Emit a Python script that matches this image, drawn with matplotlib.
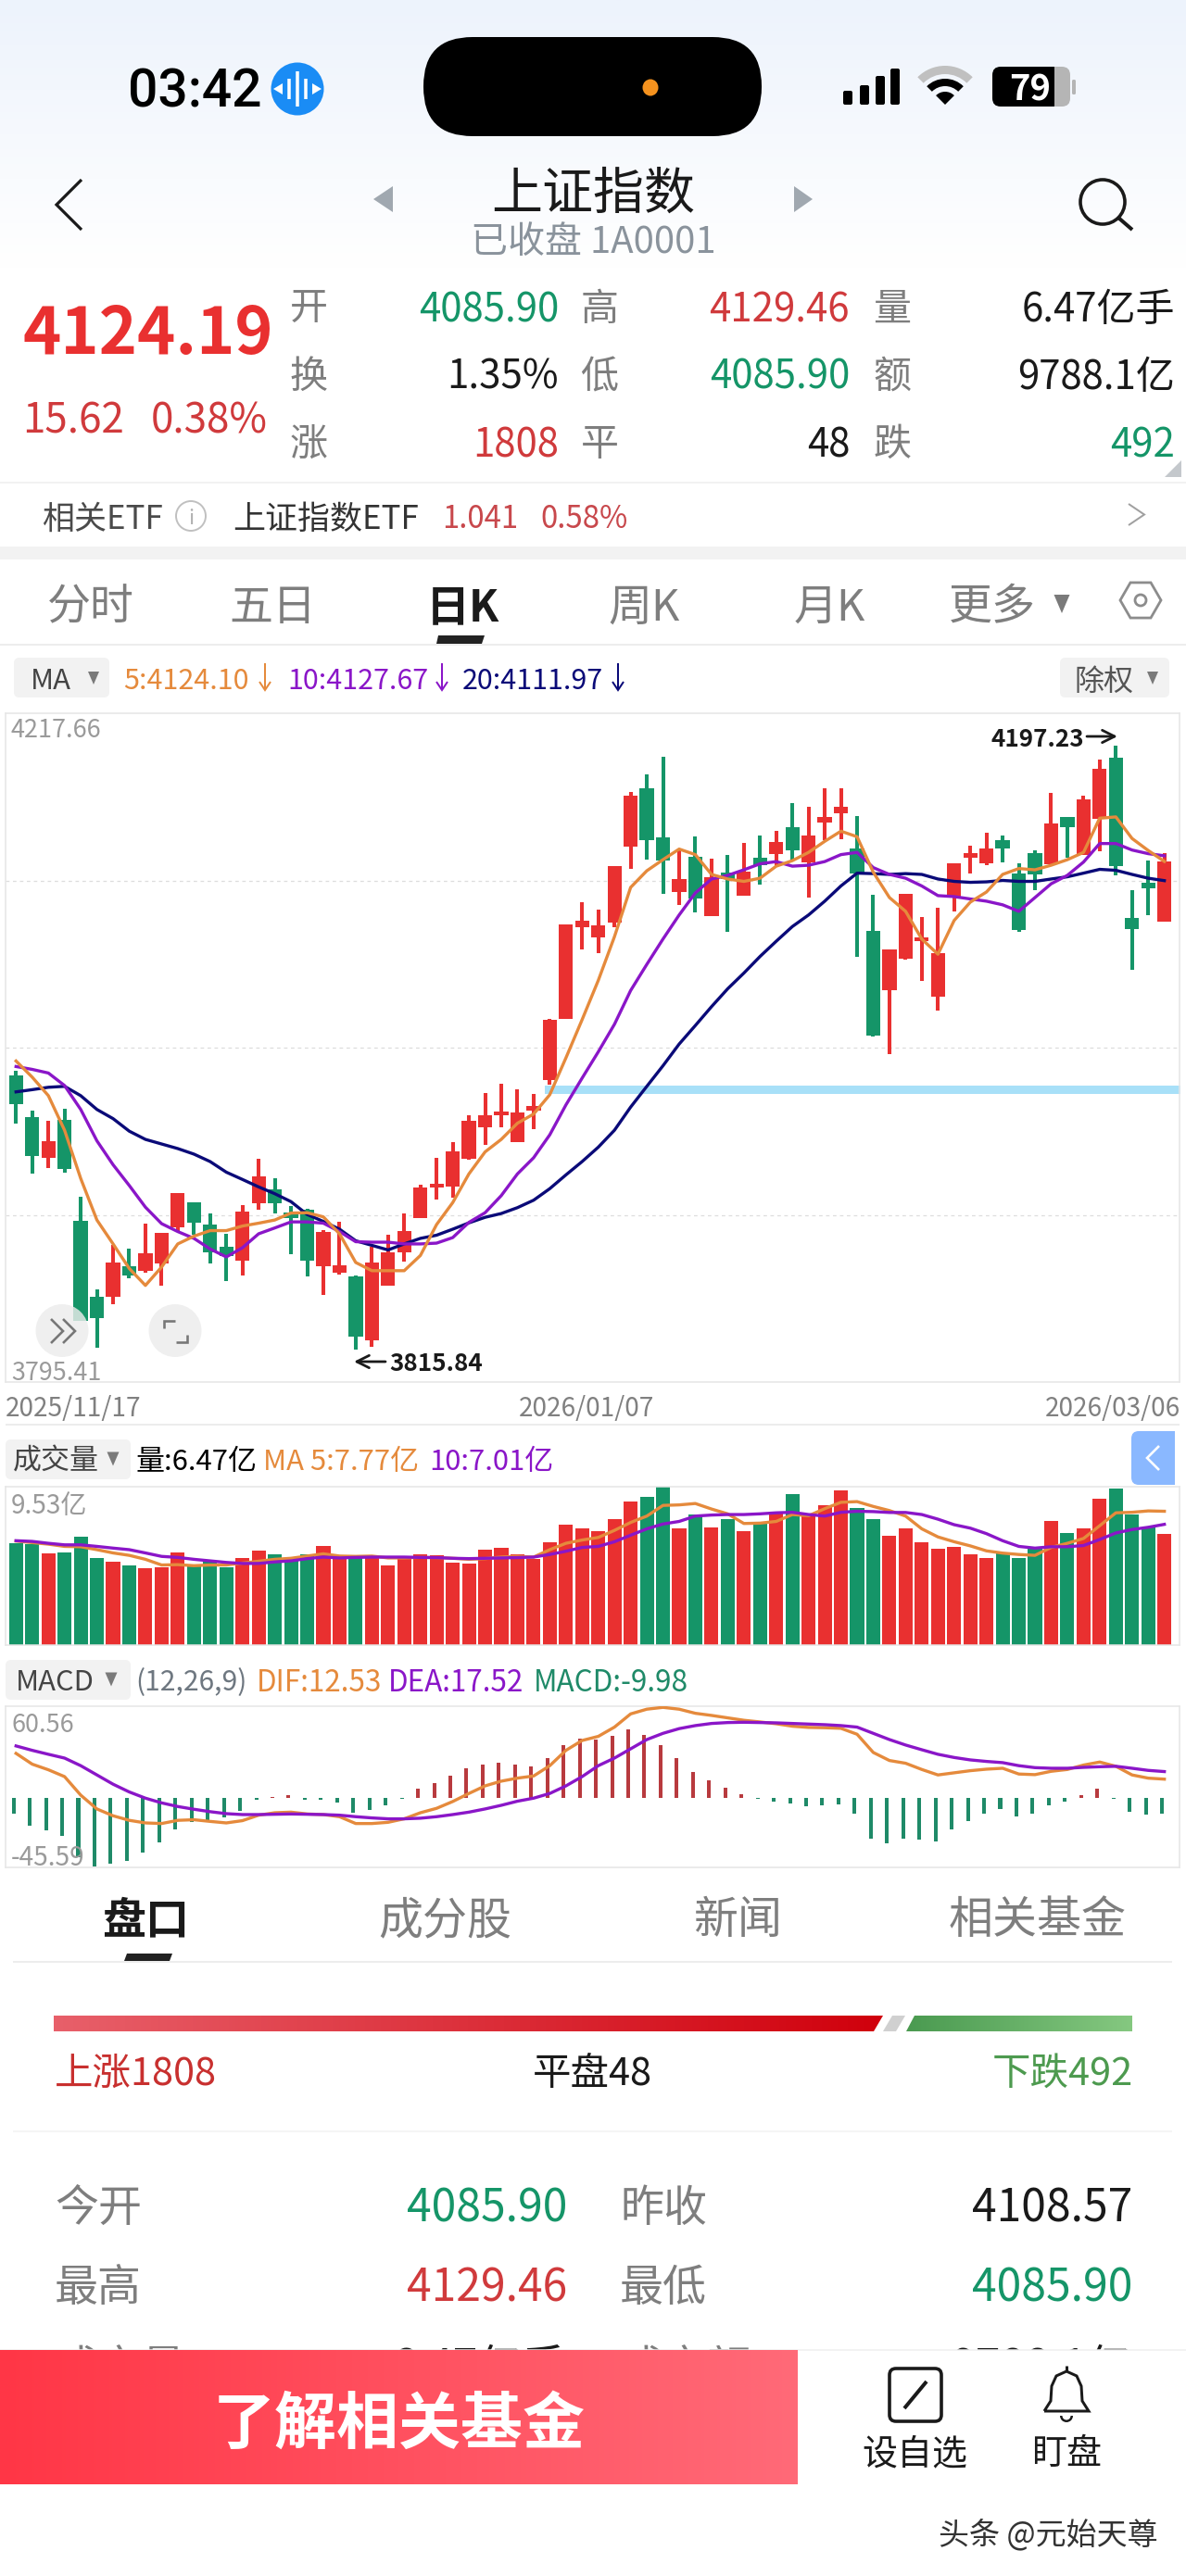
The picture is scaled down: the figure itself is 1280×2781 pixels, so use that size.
import numpy as np
import matplotlib
matplotlib.use("Agg")
import matplotlib.pyplot as plt
from matplotlib.patches import Circle, Ellipse, FancyBboxPatch, Polygon, Rectangle, RegularPolygon, Wedge
from matplotlib.colors import LinearSegmentedColormap

plt.rcParams['font.family'] = ['Noto Sans CJK SC', 'DejaVu Sans']

# ---- daily candles, 2025/11/17 to 2026/03/06
highs = [3992.2, 3966.9, 3960.2, 3968.1, 3912.2, 3854.1, 3881.7, 3879.7, 3895.4, 3889.3, 3914.9, 3909.0,
         3901.8, 3889.0, 3907.3, 3936.4, 3923.9, 3906.4, 3904.7, 3891.6, 3896.5, 3862.5, 3880.8, 3888.4,
         3902.1, 3919.8, 3937.0, 3947.1, 3963.7, 3977.7, 3983.8, 3980.0, 3977.4, 4024.8, 4084.4, 4098.4,
         4093.5, 4121.1, 4168.2, 4179.3, 4190.3, 4131.0, 4140.0, 4126.0, 4128.4, 4135.6, 4140.6, 4143.2,
         4161.0, 4158.6, 4170.0, 4170.0, 4152.5, 4103.1, 4068.5, 4103.9, 4089.1, 4094.6, 4123.1, 4134.2,
         4142.3, 4140.6, 4123.1, 4131.3, 4167.6, 4151.9, 4165.9, 4188.6, 4197.23, 4105.7, 4124.9, 4129.46]
opens = [3989.0, 3962.9, 3936.7, 3961.1, 3897.1, 3849.4, 3849.4, 3868.3, 3865.7, 3870.1, 3893.0, 3909.0,
         3894.8, 3880.8, 3872.1, 3908.2, 3917.2, 3902.3, 3904.4, 3868.3, 3864.2, 3862.2, 3821.5, 3856.4,
         3877.3, 3899.1, 3918.1, 3918.9, 3936.4, 3956.5, 3963.7, 3946.9, 3966.9, 3985.8, 4024.8, 4082.4,
         4076.0, 4085.3, 4133.3, 4170.0, 4139.4, 4104.8, 4127.2, 4089.4, 4117.0, 4102.2, 4126.6, 4128.7,
         4145.8, 4123.7, 4148.7, 4154.3, 4132.4, 4080.4, 4042.9, 4062.9, 4073.7, 4038.8, 4101.9, 4126.3,
         4122.8, 4137.7, 4116.7, 4129.5, 4122.6, 4151.9, 4128.1, 4150.8, 4189.8, 4088.2, 4110.6, 4085.90]
closes = [3971.0, 3938.4, 3947.7, 3929.7, 3834.3, 3835.7, 3870.6, 3862.8, 3876.5, 3889.3, 3914.9, 3896.2,
          3877.3, 3875.0, 3903.2, 3925.0, 3908.2, 3899.1, 3872.1, 3890.4, 3869.2, 3823.8, 3870.9, 3877.3,
          3891.0, 3918.3, 3920.4, 3941.3, 3960.2, 3963.7, 3966.1, 3965.5, 3969.8, 4024.2, 4084.4, 4086.8,
          4083.6, 4121.1, 4165.9, 4137.4, 4124.9, 4113.2, 4100.7, 4114.4, 4113.0, 4117.6, 4121.7, 4136.5,
          4131.0, 4140.6, 4151.9, 4158.6, 4116.7, 4014.1, 4068.5, 4103.4, 4076.3, 4066.1, 4123.1, 4129.2,
          4132.4, 4132.4, 4080.7, 4115.9, 4147.9, 4145.5, 4163.3, 4182.8, 4121.4, 4081.2, 4107.4, 4124.19]
lows = [3958.8, 3926.8, 3930.3, 3927.4, 3834.3, 3816.8, 3844.7, 3860.7, 3864.2, 3856.4, 3890.4, 3888.4,
        3870.1, 3859.3, 3862.8, 3904.1, 3901.8, 3875.9, 3862.2, 3850.3, 3863.4, 3815.84, 3817.7, 3856.4,
        3871.5, 3899.1, 3910.5, 3911.7, 3935.5, 3945.1, 3956.2, 3946.9, 3955.3, 3983.2, 4024.8, 4068.7,
        4066.4, 4082.7, 4119.4, 4125.5, 4103.6, 4096.7, 4091.7, 4089.4, 4079.5, 4102.2, 4109.5, 4121.1,
        4124.6, 4101.3, 4137.4, 4138.0, 4064.1, 4013.5, 4002.4, 4062.1, 4048.4, 4029.8, 4092.6, 4116.7,
        4122.0, 4123.4, 4079.5, 4105.7, 4122.6, 4126.3, 4128.1, 4130.4, 4115.3, 4055.4, 4090.3, 4085.90]

ma5 = [3998.1, 3987.9, 3976.2, 3954.4, 3923.9, 3897.7, 3882.6, 3867.1, 3856.4, 3868.0, 3882.6, 3887.5,
       3891.0, 3891.0, 3893.9, 3895.7, 3897.7, 3902.1, 3902.3, 3899.7, 3889.0, 3870.9, 3865.7, 3865.7,
       3865.7, 3875.3, 3894.8, 3908.7, 3926.8, 3940.7, 3948.6, 3958.8, 3964.6, 3976.8, 4000.1, 4024.2,
       4049.0, 4076.6, 4107.7, 4118.2, 4125.2, 4131.9, 4128.4, 4115.9, 4113.0, 4111.5, 4113.5, 4121.1,
       4124.6, 4129.8, 4136.8, 4143.2, 4139.7, 4117.3, 4101.3, 4092.6, 4075.1, 4065.5, 4086.8, 4098.4,
       4104.8, 4115.9, 4119.6, 4118.8, 4121.7, 4125.2, 4129.8, 4151.4, 4152.2, 4138.6, 4131.0, 4124.10]
ma10 = [3994.6, 3992.8, 3990.5, 3982.6, 3967.5, 3947.7, 3932.6, 3919.5, 3905.8, 3895.4, 3890.4, 3886.1,
        3879.4, 3874.4, 3880.2, 3889.0, 3892.7, 3896.5, 3896.5, 3895.7, 3890.4, 3884.0, 3883.7, 3883.7,
        3882.6, 3882.6, 3883.1, 3886.6, 3896.2, 3902.3, 3913.1, 3926.8, 3937.0, 3951.5, 3970.4, 3987.3,
        4003.9, 4021.3, 4042.6, 4059.1, 4075.1, 4090.3, 4104.2, 4113.0, 4115.3, 4118.8, 4122.6, 4124.0,
        4121.1, 4121.7, 4124.0, 4128.4, 4129.8, 4120.2, 4115.9, 4113.5, 4108.6, 4102.5, 4101.9, 4100.4,
        4099.0, 4096.7, 4092.6, 4101.3, 4110.0, 4115.3, 4123.7, 4135.4, 4135.4, 4131.3, 4129.0, 4127.67]
ma20 = [3978.6, 3980.0, 3981.5, 3982.1, 3976.2, 3967.5, 3961.7, 3953.8, 3948.6, 3945.7, 3942.8, 3939.3,
        3934.6, 3927.9, 3923.3, 3918.6, 3914.3, 3909.3, 3901.2, 3896.8, 3891.9, 3884.6, 3881.7, 3878.8,
        3882.6, 3886.1, 3888.1, 3891.9, 3895.9, 3899.4, 3901.8, 3905.5, 3910.2, 3917.5, 3926.2, 3934.6,
        3943.7, 3954.4, 3969.0, 3982.1, 3995.1, 4008.8, 4020.5, 4032.4, 4043.7, 4053.6, 4064.1, 4073.7,
        4083.0, 4090.3, 4099.0, 4108.6, 4116.7, 4116.4, 4115.9, 4116.4, 4115.9, 4113.0, 4111.5, 4110.9,
        4111.2, 4112.1, 4111.5, 4111.5, 4113.0, 4114.4, 4116.7, 4119.1, 4118.5, 4115.9, 4113.5, 4111.97]

# ---- volume, in 亿
volume = [5.91, 5.87, 5.34, 5.39, 6.30, 5.06, 4.85, 4.63, 4.46, 4.54, 5.39, 4.70,
          4.83, 4.54, 5.06, 5.50, 5.28, 4.89, 5.28, 5.76, 5.17, 5.11, 5.13, 4.63,
          5.02, 5.28, 5.22, 4.81, 4.74, 5.54, 5.65, 5.28, 4.98, 5.99, 7.01, 6.79,
          6.64, 7.29, 8.31, 8.63, 9.53, 6.79, 7.58, 6.84, 7.34, 6.64, 7.03, 7.71,
          8.79, 7.58, 8.14, 8.96, 7.98, 7.29, 6.36, 6.75, 5.99, 5.60, 5.71, 5.28,
          5.06, 5.32, 5.06, 5.58, 7.21, 6.53, 6.79, 8.51, 9.11, 7.58, 6.84, 6.47]
vol_ma5 = [6.04, 5.95, 5.86, 5.73, 5.71, 5.54, 5.35, 5.21, 4.98, 4.65, 4.67, 4.61,
           4.65, 4.65, 4.76, 4.87, 4.98, 5.04, 5.17, 5.30, 5.17, 5.15, 5.17, 5.06,
           5.06, 5.09, 5.08, 5.04, 4.98, 5.02, 5.11, 5.15, 5.11, 5.54, 5.91, 6.10,
           6.25, 6.66, 7.12, 7.49, 8.11, 8.14, 8.22, 7.90, 7.62, 7.06, 7.08, 7.18,
           7.58, 7.51, 7.92, 8.29, 8.33, 8.05, 7.81, 7.49, 6.75, 6.28, 6.00, 5.76,
           5.47, 5.34, 5.26, 5.21, 5.67, 5.91, 6.19, 6.93, 7.68, 7.71, 7.79, 7.77]
vol_ma10 = [6.06, 6.02, 5.91, 5.82, 5.82, 5.73, 5.63, 5.54, 5.35, 5.15, 5.09, 4.98,
            4.89, 4.80, 4.74, 4.74, 4.83, 4.89, 5.02, 5.11, 5.06, 5.09, 5.11, 5.11,
            5.11, 5.09, 5.08, 5.04, 5.02, 5.04, 5.06, 5.08, 5.11, 5.26, 5.45, 5.67,
            5.73, 6.00, 6.38, 6.75, 7.03, 7.18, 7.49, 7.55, 7.58, 7.58, 7.62, 7.68,
            7.71, 7.58, 7.49, 7.71, 7.77, 7.75, 7.70, 7.70, 7.58, 7.31, 6.99, 6.79,
            6.47, 6.06, 5.73, 5.63, 5.71, 5.71, 5.78, 6.13, 6.51, 6.71, 6.84, 7.01]

# ---- MACD (12,26,9)
dif = [29.5, 22.4, 18.7, 14.2, 2.0, -7.1, -11.6, -14.6, -16.3, -16.7, -14.6, -14.2,
       -15.3, -16.3, -14.8, -11.2, -9.6, -9.2, -10.4, -10.8, -12.2, -16.7, -16.7, -15.9,
       -13.6, -9.6, -6.7, -2.2, 3.1, 8.1, 11.2, 13.2, 14.6, 21.4, 31.5, 38.0,
       40.7, 46.8, 55.5, 58.6, 59.8, 58.6, 55.9, 54.5, 52.9, 51.3, 50.2, 49.0,
       47.4, 46.6, 46.4, 46.0, 42.1, 30.1, 24.8, 23.0, 18.9, 15.3, 16.7, 18.1,
       19.1, 19.7, 15.9, 15.5, 17.7, 18.9, 21.8, 23.8, 21.0, 15.3, 13.2, 12.53]
dea = [34.4, 31.5, 28.9, 26.4, 21.4, 15.3, 9.2, 4.1, 0.0, -3.1, -5.5, -7.3,
       -8.9, -10.2, -10.8, -10.8, -10.6, -10.4, -10.6, -10.8, -11.2, -12.2, -13.0, -13.6,
       -13.6, -13.2, -12.2, -10.8, -9.2, -7.1, -4.7, -2.0, 0.0, 3.1, 8.1, 14.2,
       21.4, 26.4, 32.5, 38.6, 42.7, 45.8, 47.8, 49.2, 49.8, 50.0, 49.8, 49.6,
       49.2, 48.8, 48.4, 47.8, 46.8, 42.7, 38.6, 35.0, 31.9, 28.9, 26.8, 25.2,
       24.2, 23.4, 21.4, 20.1, 19.7, 19.7, 20.3, 20.7, 21.0, 19.7, 18.3, 17.52]
macd = [-10.2, -17.9, -21.4, -25.0, -38.6, -45.2, -43.3, -41.1, -35.6, -29.1, -20.3, -15.7,
        -14.6, -12.6, -8.1, -1.0, 1.0, 2.0, -0.8, -0.8, -3.1, -9.6, -7.5, -4.5,
        -0.6, 6.1, 10.2, 14.8, 19.7, 22.2, 23.4, 22.2, 21.0, 26.2, 35.0, 39.3,
        38.6, 41.1, 45.2, 41.7, 35.0, 26.2, 17.3, 11.6, 6.7, 2.6, -0.6, -2.0,
        -3.7, -5.1, -4.9, -4.3, -10.2, -26.8, -29.7, -26.8, -27.5, -28.7, -20.7, -14.8,
        -10.2, -7.3, -12.0, -10.2, -4.9, -2.0, 2.0, 6.3, -0.6, -9.2, -10.8, -9.98]

date_labels = ['2025/11/17', '2026/01/07', '2026/03/06']

RED = '#e93030'
GREEN = '#159568'
ORANGE = '#e58a3c'
PURPLE = '#8a16c8'
NAVY = '#0a0a78'
LINE = '#e6e6e6'
GREY = '#7e7e7e'
LABEL = '#9a9a9a'

W, H = 1280, 2781
fig = plt.figure(figsize=(W / 100, H / 100), dpi=100, facecolor='white')


def page_axes(z):
    a = fig.add_axes([0, 0, 1, 1], zorder=z)
    a.set_xlim(0, W)
    a.set_ylim(H, 0)
    a.axis('off')
    return a


ui = page_axes(0)
over = page_axes(5)


def txt(x, y, s, px, color='black', ha='left', weight='normal', ax=None, z=3, family=None):
    kw = {'family': family} if family else {}
    (ax or ui).text(x, y, s, fontsize=px * 0.72, color=color, ha=ha, va='center_baseline',
                    fontweight=weight, zorder=z, **kw)


def grad(x0, y0, x1, y1, c0, c1, vertical=False, clip=None, ax=None, z=1):
    a = ax or ui
    cm = LinearSegmentedColormap.from_list('g', [c0, c1])
    arr = np.linspace(0, 1, 256)
    arr = arr.reshape(-1, 1) if vertical else arr.reshape(1, -1)
    im = a.imshow(arr, cmap=cm, extent=(x0, x1, y1, y0), origin='upper', aspect='auto', zorder=z)
    if clip is not None:
        p = Polygon(clip, transform=a.transData, fc='none', ec='none')
        a.add_patch(p)
        im.set_clip_path(p)
    a.set_xlim(0, W)
    a.set_ylim(H, 0)


def rrect(x0, y0, x1, y1, r, fc, ec='none', lw=0, ax=None, z=2):
    (ax or ui).add_patch(FancyBboxPatch((x0 + r, y0 + r), x1 - x0 - 2 * r, y1 - y0 - 2 * r,
                                        boxstyle='round,pad=%s,rounding_size=%s' % (r, r),
                                        fc=fc, ec=ec, lw=lw, zorder=z))


def tri_down(cx, cy, w, h, color='#7a7a7a', ax=None):
    (ax or ui).add_patch(Polygon([(cx - w / 2, cy - h / 2), (cx + w / 2, cy - h / 2), (cx, cy + h / 2)],
                                 fc=color, ec='none', zorder=3))


def line(xs, ys, color, lw, ax=None, z=3):
    (ax or ui).plot(xs, ys, color=color, lw=lw * 0.72, solid_capstyle='butt', solid_joinstyle='miter', zorder=z)


# ---- status bar and header
grad(0, 0, W, 290, '#edf3fc', '#ffffff', vertical=True, z=0)
rrect(457, 40, 822, 147, 53, 'black')
ui.add_patch(Ellipse((702, 94.5), 17, 18, fc='#f5921e', ec='none', zorder=3))
txt(138, 94, '03:42', 57, 'black', weight='medium', family='Roboto')
ui.add_patch(Ellipse((321, 96), 57, 57, fc='#1a8cf5', ec='none', zorder=3))
for dx, hh in zip([-9, 0, 9], [11, 19, 11]):
    line([321 + dx, 321 + dx], [96 - hh, 96 + hh], 'white', 3.5)
ui.add_patch(Polygon([(305, 90), (305, 102), (295, 96)], fc='white', ec='none', zorder=3))
ui.add_patch(Polygon([(337, 90), (337, 102), (347, 96)], fc='white', ec='none', zorder=3))
for bx, top in zip([915, 933, 950, 966], [98, 92, 82, 74]):
    rrect(bx - 5, top, bx + 5, 113, 2, 'black')
ui.add_patch(Wedge((1020, 113), 42, 225, 315, width=9, fc='#c0c0c0', ec='none', zorder=3))
ui.add_patch(Wedge((1020, 113), 28, 225, 315, width=8, fc='black', ec='none', zorder=3))
ui.add_patch(Wedge((1020, 113), 14, 225, 315, fc='black', ec='none', zorder=3))
rrect(1090, 72, 1155, 115, 9, '#b5b5b5')
rrect(1071, 72, 1145, 115, 9, 'black')
ui.add_patch(Rectangle((1138, 72), 8, 43, fc='#b5b5b5', ec='none', zorder=2))
rrect(1157, 86, 1161, 102, 1.5, '#b5b5b5')
txt(1112, 93, '79', 38, 'white', ha='center', weight='bold')

line([88, 61, 88], [194, 221, 248], '#1a1a1a', 3.2)
ui.add_patch(Polygon([(424, 201), (424, 229), (403, 215)], fc='#a0a8b0', ec='none'))
ui.add_patch(Polygon([(857, 201), (857, 229), (877, 215)], fc='#a0a8b0', ec='none'))
txt(640, 203, '上证指数', 55, '#1a1a1a', ha='center')
txt(640, 257, '已收盘 1A0001', 40, '#8a939c', ha='center')
ui.add_patch(Circle((1190, 218), 24, fc='none', ec='#1a1a1a', lw=2.6, zorder=3))
line([1207, 1222], [235, 248], '#1a1a1a', 4)

# ---- quote block
txt(24, 354, '4124.19', 70, RED, weight='bold')
txt(24, 450, '15.62', 44, '#d03a3c')
txt(163, 450, '0.38%', 44, '#d03a3c')
row_y = [330, 403, 476]
for cx, labs in zip([333, 647, 963], [['开', '换', '涨'], ['高', '低', '平'], ['量', '额', '跌']]):
    for y, s in zip(row_y, labs):
        txt(cx, y, s, 41, GREY, ha='center')
cols = [(603, [('4085.90', GREEN), ('1.35%', '#1a1a1a'), ('1808', '#d03a3c')]),
        (917, [('4129.46', '#d03a3c'), ('4085.90', GREEN), ('48', '#1a1a1a')]),
        (1268, [('6.47亿手', '#1a1a1a'), ('9788.1亿', '#1a1a1a'), ('492', GREEN)])]
for xr, vals in cols:
    for y, (s, c) in zip(row_y, vals):
        txt(xr, y, s, 42, c, ha='right')
ui.add_patch(Polygon([(1275, 497), (1275, 515), (1257, 515)], fc='#c4c8cc', ec='none'))
line([0, W], [521, 521], '#efefef', 1.5)

txt(45, 557, '相关ETF', 35, '#4a4a4a')
ui.add_patch(Circle((206, 557), 16, fc='none', ec='#c0c0c0', lw=1.4, zorder=3))
txt(206, 557, 'i', 22, '#b0b0b0', ha='center')
txt(251, 557, '上证指数ETF', 35, '#333333')
txt(477, 557, '1.041', 33, '#c8484c')
txt(583, 557, '0.58%', 33, '#c8484c')
line([1218, 1235, 1218], [544, 555.5, 567], '#a0a0a0', 2)
ui.add_patch(Rectangle((0, 590), W, 14, fc='#f2f2f2', ec='none', zorder=1))

# ---- period tabs
for cx, s in zip([98, 294, 695, 895, 1071], ['分时', '五日', '周K', '月K', '更多']):
    txt(cx, 651, s, 47, GREY, ha='center')
txt(499, 651, '日K', 47, '#1a1a1a', ha='center', weight='bold')
tri_down(1146, 652, 17, 20)
ui.add_patch(RegularPolygon((1231, 648), 6, radius=22, orientation=np.pi / 6, fc='none', ec='#8c8c8c', lw=2, zorder=3))
ui.add_patch(Circle((1231, 648), 6, fc='none', ec='#8c8c8c', lw=2, zorder=3))
ui.add_patch(Polygon([(473, 686), (523, 686), (520, 695), (471, 695)], fc='#222222', ec='none', zorder=3))
line([0, W], [696, 696], '#e8e8e8', 1.5)

rrect(15, 710, 118, 753, 6, '#f2f2f2')
txt(55, 732, 'MA', 31, '#444444', ha='center')
tri_down(101, 732, 12, 14)
rrect(1144, 710, 1262, 753, 6, '#f2f2f2')
txt(1191, 732, '除权', 32, '#555555', ha='center')
tri_down(1244, 732, 12, 14)
for x0, xa, s, c in [(133, 286, '5:4124.10', ORANGE), (310, 477, '10:4127.67', PURPLE), (499, 667, '20:4111.97', NAVY)]:
    txt(x0, 732, s, 30.5, c)
    line([xa, xa], [716, 744], c, 2)
    line([xa - 6, xa, xa + 6], [736, 745, 736], c, 2)

# ---- chart panels, placed by pixel rectangle; x is the bar number
PX0, PXSTEP = 17.3, 17.456
LEFT, RIGHT = 6, 1273


def panel(top, bottom, ymin, ymax):
    a = fig.add_axes([LEFT / W, 1 - bottom / H, (RIGHT - LEFT) / W, (bottom - top) / H], zorder=2)
    a.patch.set_alpha(0)
    a.set_xlim((LEFT - PX0) / PXSTEP, (RIGHT - PX0) / PXSTEP)
    a.set_ylim(ymin, ymax)
    a.set_xticks([])
    a.set_yticks([])
    for sp in a.spines.values():
        sp.set_color(LINE)
        sp.set_linewidth(1.1)
    return a


xs = np.arange(len(closes))
o, c, h, l = map(np.array, (opens, closes, highs, lows))
up = c >= o
colors = [RED if u else GREEN for u in up]

# main candles
ax = panel(770, 1492, 3795.41, 4217.66)
for frac in [0.25, 0.5, 0.75]:
    ax.axhline(3795.41 + frac * (4217.66 - 3795.41), color='#dddddd', lw=0.9, ls=(0, (3, 3)), zorder=0)
ax.fill_between([32.7, 72], 3977.3, 3982.6, color='#a8e0f8', lw=0, zorder=1)
ax.vlines(xs, l, h, colors=colors, lw=2.9, zorder=2, capstyle='butt')
ax.bar(xs, np.maximum(np.abs(c - o), 0.5), bottom=np.minimum(o, c), width=0.875, color=colors, lw=0, zorder=3)
ax.plot(xs, ma20, color=NAVY, lw=2.4, zorder=4)
ax.plot(xs, ma10, color=PURPLE, lw=2.4, zorder=5)
ax.plot(xs, ma5, color=ORANGE, lw=2.4, zorder=6)

txt(12, 786, '4217.66', 27, LABEL, ax=over)
txt(12, 1479, '3795.41', 27, LABEL, ax=over)
txt(1070, 795, '4197.23', 26, '#1a1a1a', ax=over, weight='bold')
txt(420, 1470, '3815.84', 26, '#1a1a1a', ax=over, weight='bold')
arrow = dict(arrowstyle='->', lw=2, color='#1a1a1a', mutation_scale=24, shrinkA=0, shrinkB=0)
over.annotate('', xy=(1206, 795), xytext=(1173, 795), arrowprops=arrow)
over.annotate('', xy=(382, 1470), xytext=(416, 1470), arrowprops=arrow)

over.add_patch(Circle((67, 1436.5), 28.5, fc='#ececec', alpha=0.82, ec='none'))
over.add_patch(Circle((189, 1436.5), 28.5, fc='#ececec', alpha=0.82, ec='none'))
line([55, 68, 55], [1424, 1437, 1450], '#777777', 2.6, ax=over)
line([68, 81, 68], [1424, 1437, 1450], '#777777', 2.6, ax=over)
line([177, 177, 189], [1434, 1426, 1426], '#777777', 2.6, ax=over)
line([202, 202, 190], [1441, 1449, 1449], '#777777', 2.6, ax=over)

txt(6, 1517, date_labels[0], 28, '#808080')
txt(633, 1517, date_labels[1], 28, '#808080', ha='center')
txt(1274, 1517, date_labels[2], 28, '#808080', ha='right')
line([LEFT, RIGHT], [1538, 1538], LINE, 1.5)

# volume
rrect(6, 1554, 141, 1597, 6, '#f2f2f2')
txt(60, 1575, '成交量', 31, '#444444', ha='center')
tri_down(122, 1575, 13, 15)
txt(147, 1575, '量:6.47亿', 31, 'black')
txt(284, 1575, 'MA 5:7.77亿', 31, ORANGE)
txt(463, 1575, '10:7.01亿', 31, PURPLE)
rrect(1221, 1545, 1268, 1603, 8, '#8ab8ff', ax=over)
over.add_patch(Rectangle((1250, 1545), 18, 58, fc='#8ab8ff', ec='none', zorder=2))
line([1251, 1238, 1251], [1561, 1574, 1587], 'white', 2.6, ax=over)

ax2 = panel(1605, 1776, 0, 9.53 * 171 / 177.2)
ax2.bar(xs, volume, width=0.865, color=colors, lw=0, zorder=2)
ax2.plot(xs, vol_ma5, color=ORANGE, lw=2.4, zorder=3)
ax2.plot(xs, vol_ma10, color=PURPLE, lw=2.4, zorder=4)
txt(12, 1622, '9.53亿', 28, LABEL, ax=over)

# MACD
rrect(6, 1792, 141, 1835, 6, '#f2f2f2')
txt(59, 1813, 'MACD', 31, '#444444', ha='center')
tri_down(120, 1813, 13, 15)
txt(146, 1813, '(12,26,9)', 30, '#6e7780')
txt(277, 1813, 'DIF:12.53', 31.5, ORANGE)
txt(419, 1813, 'DEA:17.52', 31.5, PURPLE)
txt(576, 1813, 'MACD:-9.98', 31.5, '#1f8a68')

ax3 = panel(1842, 2016, -45.59, 60.56)
hist = np.array(macd)
ax3.bar(xs - 0.15, hist, width=0.23, color=['#b83a3e' if v >= 0 else '#1f8a68' for v in hist], lw=0, zorder=2)
ax3.plot(xs, dif, color=ORANGE, lw=2.4, zorder=3)
ax3.plot(xs, dea, color=PURPLE, lw=2.4, zorder=4)
txt(12, 1860, '60.56', 27, LABEL, ax=over)
txt(12, 2002, '-45.59', 28, LABEL, ax=over)

# ---- lower tabs and breadth bar
txt(157, 2068, '盘口', 47, '#1a1a1a', ha='center', weight='bold')
for cx, s in zip([480, 796, 1120], ['成分股', '新闻', '相关基金']):
    txt(cx, 2068, s, 48, GREY, ha='center')
ui.add_patch(Polygon([(137, 2109), (186, 2109), (183, 2117), (134, 2117)], fc='#222222', ec='none', zorder=3))
line([14, 1265], [2118, 2118], '#e8e8e8', 1.5)

grad(58, 2176, 953, 2193, '#e8606a', '#d0000c', clip=[(58, 2176), (953, 2176), (943, 2193), (58, 2193)])
ui.add_patch(Polygon([(963, 2176), (977, 2176), (967, 2193), (953, 2193)], fc='#d0d0d0', ec='none', zorder=2))
grad(978, 2176, 1222, 2193, '#4a9a50', '#85c880', clip=[(987, 2176), (1222, 2176), (1222, 2193), (978, 2193)])
txt(59, 2235, '上涨1808', 41.5, '#c8302f')
txt(639, 2235, '平盘48', 41.5, '#1a1a1a', ha='center')
txt(1223, 2235, '下跌492', 41.5, '#4d9a4f', ha='right')
line([14, 1265], [2301, 2301], '#f2f2f2', 1.5)

rows = [(2379, '今开', '4085.90', GREEN, '昨收', '4108.57', '#1a1a1a'),
        (2465, '最高', '4129.46', '#d03a3c', '最低', '4085.90', GREEN),
        (2552, '成交量', '6.47亿手', '#1a1a1a', '成交额', '9788.1亿', '#1a1a1a')]
for y, a1, v1, c1, a2, v2, c2 in rows:
    txt(59, y, a1, 47, GREY, z=1)
    txt(612, y, v1, 48, c1, ha='right', z=1)
    txt(669, y, a2, 47, GREY, z=1)
    txt(1222, y, v2, 48, c2, ha='right', z=1)

# ---- bottom action bar
ui.add_patch(Rectangle((0, 2537), W, H - 2537, fc='white', ec='none', zorder=4))
line([0, W], [2537, 2537], '#eeeeee', 1.5, z=4)
grad(0, 2537.5, 861, 2682, '#ff3646', '#ff6a78', z=5)
txt(431, 2611, '了解相关基金', 67, 'white', ha='center', weight='bold', z=6)
rrect(960, 2557, 1016, 2614, 7, 'white', ec='#1a1a1a', lw=2.6, z=5)
line([976, 1000], [2600, 2571], '#1a1a1a', 4, z=6)
bell_x = [1127, 1134, 1135, 1140, 1151, 1162, 1167, 1168, 1175, 1127]
bell_y = [2603, 2592, 2576, 2565, 2560, 2565, 2576, 2592, 2603, 2603]
line(bell_x, bell_y, '#1a1a1a', 3, z=5)
line([1151, 1151], [2554, 2560], '#1a1a1a', 3, z=5)
ui.add_patch(Wedge((1151, 2608), 7, 0, 180, width=2.5, fc='#1a1a1a', ec='none', zorder=5))
txt(987, 2645, '设自选', 38, '#1a1a1a', ha='center', z=6)
txt(1151, 2645, '盯盘', 38, '#1a1a1a', ha='center', z=6)
txt(1250, 2733, '头条 @元始天尊', 33, '#333333', ha='right', z=6)

fig.savefig('out.png', dpi=100, facecolor='white')
